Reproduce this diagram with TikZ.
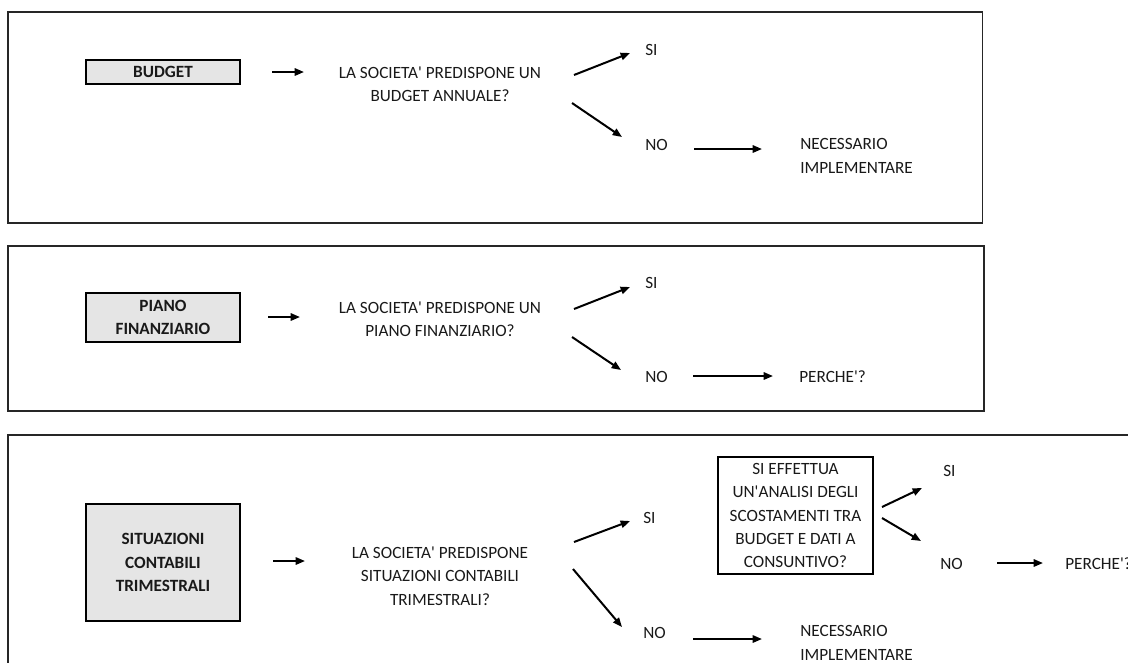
\documentclass[tikz,border=0pt]{standalone}
\usepackage{fontspec}
\setmainfont{Carlito}[Ligatures=TeXOff]
\usetikzlibrary{arrows.meta}

\begin{document}
\begin{tikzpicture}[x=0.75pt,y=-0.75pt,
  txt/.style={font=\fontsize{12.9}{17.5}\selectfont, inner sep=0pt, text=black!90},
  question/.style={txt, align=center},
  answer/.style={txt, anchor=west, align=left},
  panel/.style={draw=black!85, line width=1pt},
  topic/.style={txt, draw=black, line width=1.5pt, fill=black!10,
    font=\fontsize{12.9}{17.5}\selectfont\bfseries, align=center,
    minimum width=115.5pt},
  checkbox/.style={txt, draw=black, line width=0.9pt, align=center,
    minimum width=116.25pt, minimum height=87.75pt},
  flow/.style={line width=1.5pt, -{Triangle[length=7pt,width=5.5pt]}}
]
\useasboundingbox (0,0) rectangle (1128,662);

% ---------- panel frames ----------
\draw[panel] (8,12) rectangle (982.5,223);
\draw[panel] (8,246) rectangle (984,411);
\draw[panel] (1130,435) -- (8,435) -- (8,664);

% ---------- BUDGET ----------
\node[topic, minimum height=18pt] (budget) at (163,72) {BUDGET};
\node[question] (q1) at (440,84.5) {LA SOCIETA' PREDISPONE UN\\BUDGET ANNUALE?};
\node[answer] (si1) at (645,50) {SI};
\node[answer] (no1) at (645,145) {NO};
\node[answer] (nec1) at (800,156) {NECESSARIO\\IMPLEMENTARE};

\coordinate (a1s) at (272,72);   \coordinate (a1e) at (304,72);
\coordinate (s1s) at (574,75);   \coordinate (s1e) at (630,53);
\coordinate (n1s) at (572,103);  \coordinate (n1e) at (622,137);
\coordinate (r1s) at (694,149);  \coordinate (r1e) at (762,149);
\draw[flow] (a1s) -- (a1e);
\draw[flow] (s1s) -- (s1e);
\draw[flow] (n1s) -- (n1e);
\draw[flow] (r1s) -- (r1e);

% ---------- PIANO FINANZIARIO ----------
\node[topic, minimum height=36.75pt] (piano) at (163,317.5) {PIANO\\FINANZIARIO};
\node[question] (q2) at (440,319) {LA SOCIETA' PREDISPONE UN\\PIANO FINANZIARIO?};
\node[answer] (si2) at (645,283) {SI};
\node[answer] (no2) at (645,377) {NO};
\node[answer] (why2) at (799,377) {PERCHE'?};

\coordinate (a2s) at (268,317);  \coordinate (a2e) at (300,317);
\coordinate (s2s) at (574,309);  \coordinate (s2e) at (630,287);
\coordinate (n2s) at (572,337);  \coordinate (n2e) at (621,370);
\coordinate (r2s) at (693,376);  \coordinate (r2e) at (773,376);
\draw[flow] (a2s) -- (a2e);
\draw[flow] (s2s) -- (s2e);
\draw[flow] (n2s) -- (n2e);
\draw[flow] (r2s) -- (r2e);

% ---------- SITUAZIONI CONTABILI TRIMESTRALI ----------
\node[topic, minimum height=87.75pt] (sit) at (163,562.5) {SITUAZIONI\\CONTABILI\\TRIMESTRALI};
\node[question] (q3) at (440,576) {LA SOCIETA' PREDISPONE\\SITUAZIONI CONTABILI\\TRIMESTRALI?};
\node[answer] (si3) at (643,518) {SI};
\node[answer] (no3) at (643,633) {NO};
\node[answer] (nec3) at (800,643) {NECESSARIO\\IMPLEMENTARE};
\node[checkbox] (scost) at (795.5,515.5) {SI EFFETTUA\\UN'ANALISI DEGLI\\SCOSTAMENTI TRA\\BUDGET E DATI A\\CONSUNTIVO?};
\node[answer] (si4) at (943,471) {SI};
\node[answer] (no4) at (940,564) {NO};
\node[answer] (why4) at (1065,564) {PERCHE'?};

\coordinate (a3s) at (273,561);  \coordinate (a3e) at (305,561);
\coordinate (s3s) at (574,542);  \coordinate (s3e) at (630,521);
\coordinate (n3s) at (573,569);  \coordinate (n3e) at (622,627);
\coordinate (r3s) at (693,639);  \coordinate (r3e) at (762,639);
\coordinate (s4s) at (882,507);  \coordinate (s4e) at (922,488);
\coordinate (n4s) at (882,518);  \coordinate (n4e) at (921,541);
\coordinate (r4s) at (997,563);  \coordinate (r4e) at (1043,563);
\draw[flow] (a3s) -- (a3e);
\draw[flow] (s3s) -- (s3e);
\draw[flow] (n3s) -- (n3e);
\draw[flow] (r3s) -- (r3e);
\draw[flow] (s4s) -- (s4e);
\draw[flow] (n4s) -- (n4e);
\draw[flow] (r4s) -- (r4e);
\end{tikzpicture}
\end{document}
